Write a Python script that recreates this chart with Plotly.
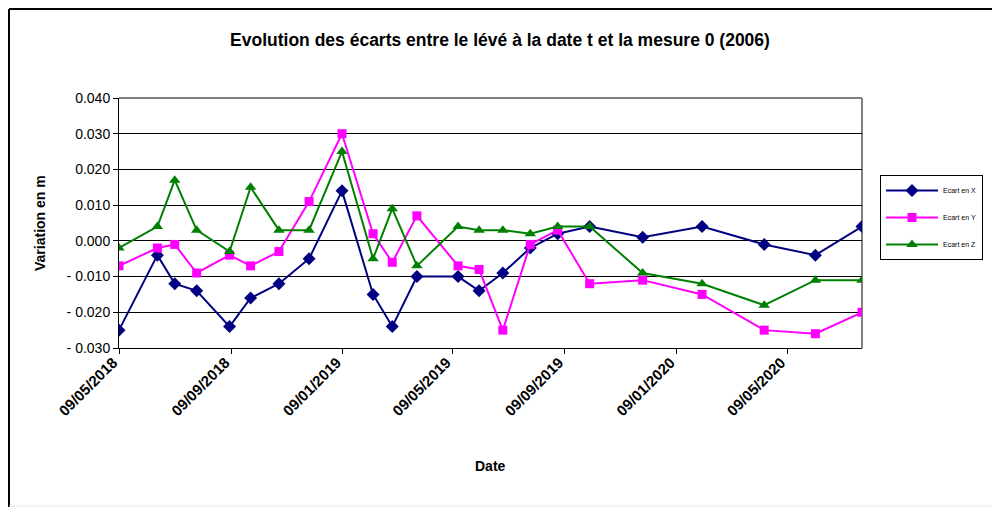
import plotly.graph_objects as go

dates = ["2018-05-09", "2018-06-20", "2018-07-09", "2018-08-02", "2018-09-07", "2018-09-30",
         "2018-10-31", "2018-12-03", "2019-01-08", "2019-02-11", "2019-03-04", "2019-03-31",
         "2019-05-15", "2019-06-07", "2019-07-03", "2019-08-02", "2019-09-01", "2019-10-06",
         "2019-12-03", "2020-02-06", "2020-04-14", "2020-06-09", "2020-07-30"]
ecart_x = [-0.025, -0.004, -0.012, -0.014, -0.024, -0.016, -0.012, -0.005, 0.014, -0.015,
           -0.024, -0.010, -0.010, -0.014, -0.009, -0.002, 0.002, 0.004, 0.001, 0.004,
           -0.001, -0.004, 0.004]
ecart_y = [-0.007, -0.002, -0.001, -0.009, -0.004, -0.007, -0.003, 0.011, 0.030, 0.002,
           -0.006, 0.007, -0.007, -0.008, -0.025, -0.001, 0.003, -0.012, -0.011, -0.015,
           -0.025, -0.026, -0.020]
ecart_z = [-0.002, 0.004, 0.017, 0.003, -0.003, 0.015, 0.003, 0.003, 0.025, -0.005,
           0.009, -0.007, 0.004, 0.003, 0.003, 0.002, 0.004, 0.004, -0.009, -0.012,
           -0.018, -0.011, -0.011]
series_names = ["Ecart en X", "Ecart en Y", "Ecart en Z"]
y_tickvals = [-0.03, -0.02, -0.01, 0.0, 0.01, 0.02, 0.03, 0.04]
y_ticktext = ["- 0.030", "- 0.020", "- 0.010", "0.000", "0.010", "0.020", "0.030", "0.040"]

FONT = "Arial, Liberation Sans, sans-serif"

fig = go.Figure()
styles = [("#000080", "diamond", 10), ("#FF00FF", "square", 9), ("#008000", "triangle-up", 10)]
for name, vals, (col, sym, sz) in zip(series_names, [ecart_x, ecart_y, ecart_z], styles):
    fig.add_trace(go.Scatter(x=dates, y=vals, name=name, mode="lines+markers",
                             line=dict(color=col, width=2),
                             marker=dict(color=col, symbol=sym, size=sz),
                             legendgroup=name))

# page offset of the plot div (default body margin)
OFF = 8
W, H = 1000 - OFF, 507 - OFF
L, R, T, B = 119 - OFF, 138, 98 - OFF, 159
pw, ph = W - L - R, H - T - B

def px(x):
    return (x - OFF - L) / pw

def py(y):
    return (H - B - (y - OFF)) / ph

fig.update_layout(
    width=W, height=H,
    margin=dict(l=L, r=R, t=T, b=B),
    paper_bgcolor="white", plot_bgcolor="white",
    font=dict(family=FONT, color="black"),
    title=dict(text="<b>Evolution des écarts entre le lévé à la date t et la mesure 0 (2006)</b>",
               x=(500 - OFF) / W, xanchor="center", y=1 - (40 - OFF) / H, yanchor="middle",
               font=dict(size=17.5, family=FONT, color="black")),
    showlegend=True,
    legend=dict(x=px(880), y=py(175), xanchor="left", yanchor="top",
                bordercolor="black", borderwidth=1, bgcolor="white",
                font=dict(size=7, family=FONT), tracegroupgap=8,
                itemwidth=52),
    xaxis=dict(type="date", range=["2018-05-09", "2020-07-30"],
               tick0="2018-05-09", dtick="M4", tickformat="%d/%m/%Y",
               tickangle=-45, tickfont=dict(size=15, family=FONT, color="black", weight="bold"),
               ticklabelstandoff=-6, ticklabelshift=-6,
               showgrid=False, showline=True, linecolor="black", linewidth=1,
               ticks="outside", ticklen=5, tickcolor="black", zeroline=False,
               mirror=False),
    yaxis=dict(range=[-0.03, 0.04], tickvals=y_tickvals, ticktext=y_ticktext,
               tickfont=dict(size=14, family=FONT, color="black"),
               showgrid=True, gridcolor="black", gridwidth=1,
               showline=True, linecolor="black", linewidth=1,
               ticks="outside", ticklen=5, tickcolor="black", zeroline=False),
    annotations=[
        dict(text="<b>Variation en m</b>", x=px(40), y=py(223), xref="paper", yref="paper",
             showarrow=False, textangle=-90, font=dict(size=14, family=FONT, color="black"),
             xanchor="center", yanchor="middle"),
        dict(text="<b>Date</b>", x=px(490), y=py(466), xref="paper", yref="paper",
             showarrow=False, font=dict(size=14, family=FONT, color="black"),
             xanchor="center", yanchor="middle"),
    ],
    shapes=[
        # plot area border (top/right grey)
        dict(type="line", xref="paper", yref="paper", x0=0, x1=1, y0=1, y1=1,
             line=dict(color="#808080", width=2), layer="below"),
        dict(type="line", xref="paper", yref="paper", x0=1, x1=1, y0=0, y1=1,
             line=dict(color="#808080", width=2), layer="below"),
        # chart area border (left and top visible, bottom faint)
        dict(type="line", xref="paper", yref="paper", x0=px(9), x1=px(9), y0=py(507), y1=py(9),
             line=dict(color="black", width=2)),
        dict(type="line", xref="paper", yref="paper", x0=px(9), x1=px(1000), y0=py(9), y1=py(9),
             line=dict(color="black", width=2)),
        dict(type="line", xref="paper", yref="paper", x0=px(9), x1=px(1000), y0=py(506), y1=py(506),
             line=dict(color="#e6e6e6", width=1)),
    ],
)

fig.write_html("out.html")
